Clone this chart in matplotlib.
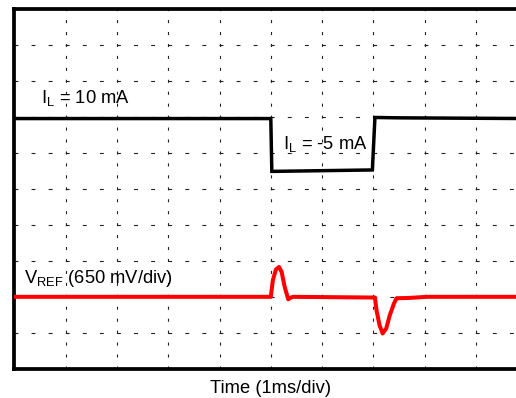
import matplotlib
matplotlib.use("Agg")
import matplotlib.pyplot as plt

plt.rcParams['font.family'] = ['Liberation Sans', 'DejaVu Sans']
plt.rcParams['mathtext.fontset'] = 'custom'
plt.rcParams['mathtext.rm'] = 'Liberation Sans'
plt.rcParams['mathtext.it'] = 'Liberation Sans:italic'
plt.rcParams['lines.scale_dashes'] = False

# Data (divisions: x 0..10 time divisions, y 0..10 vertical divisions)
il_t = [0, 5.00, 5.02, 6.0, 6.98, 7.03, 7.5, 10]
il_v = [6.96, 6.96, 5.49, 5.51, 5.53, 6.99, 6.98, 6.96]

vref_t = [0, 5.00, 5.04, 5.10, 5.16, 5.21, 5.27, 5.34, 5.39, 5.44,
          7.00, 7.03, 7.06, 7.12, 7.18, 7.25, 7.32, 7.40, 7.45, 7.71, 8.04, 10]
vref_v = [2.00, 2.00, 2.46, 2.76, 2.83, 2.70, 2.28, 1.93, 1.98, 2.00,
          1.98, 1.98, 1.63, 1.21, 0.98, 1.12, 1.49, 1.81, 1.96, 1.97, 2.00, 2.00]

label_il_high = 'I$_\\mathrm{L}$ = 10 mA'
label_il_low = 'I$_\\mathrm{L}$ = -5 mA'
label_vref = 'V$_\\mathrm{REF}$ (650 mV/div)'
label_x = 'Time (1ms/div)'

W, H = 516, 398
fig = plt.figure(figsize=(W / 100, H / 100), dpi=100)
left_px, top_px, bottom_px = 14.3, 9.3, 368.7
div_w = 51.3
ax = fig.add_axes([left_px / W, (H - bottom_px) / H, 10 * div_w / W, (bottom_px - top_px) / H])
ax.set_xlim(0, 10)
ax.set_ylim(0, 10)
ax.set_xticks(range(0, 11))
ax.set_yticks(range(0, 11))
ax.tick_params(length=0, labelbottom=False, labelleft=False)
for s in ax.spines.values():
    s.set_linewidth(2.7)
    s.set_color('black')

# grid
for gx in range(1, 10):
    ax.axvline(gx, color='#222222', lw=0.8, zorder=1,
               dashes=(2.2, 6.4), dash_capstyle='butt')
for gy in range(1, 10):
    ax.axhline(gy, color='#222222', lw=0.8, zorder=1,
               dashes=(2.8, 9.5), dash_capstyle='butt')

ax.plot(il_t, il_v, color='black', lw=2.5, zorder=3, solid_joinstyle='miter')
ax.plot(vref_t, vref_v, color='#ff0000', lw=2.9, zorder=3)

fs = 13.2
ax.text(0.52, 7.39, label_il_high, fontsize=fs, va='baseline', ha='left')
ax.text(5.24, 6.12, label_il_low, fontsize=fs, va='baseline', ha='left')
ax.text(0.19, 2.39, label_vref, fontsize=fs, va='baseline', ha='left')

ax.annotate(label_x, xy=(0.5, 0), xycoords='axes fraction',
            xytext=(0, -17.6), textcoords='offset points',
            ha='center', va='baseline', fontsize=fs)

fig.savefig('out.png', dpi=100)
